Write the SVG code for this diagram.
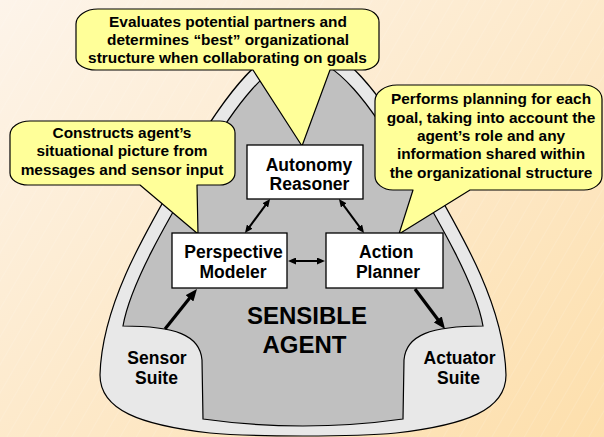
<svg xmlns="http://www.w3.org/2000/svg" width="604" height="437" viewBox="0 0 604 437">
  <style>
    .t { font-family: "Liberation Sans", Arial, sans-serif; font-weight: bold; fill: #000; text-anchor: middle; }
    .box { font-size: 17.5px; }
    .call { font-size: 15.4px; }
    .big { font-size: 24px; }
    .node rect { fill: #fff; stroke: #000; stroke-width: 1.3; }
    .callout path { fill: #ffff99; stroke: #000; stroke-width: 1.2; stroke-linejoin: round; }
    .thin { stroke: #000; stroke-width: 2; fill: none; marker-start: url(#ah); marker-end: url(#ah); }
    .thick { stroke: #000; stroke-width: 3.2; fill: none; marker-end: url(#ahb); }
  </style>
  <defs>
    <linearGradient id="bg" x1="0" y1="0" x2="1" y2="1">
      <stop offset="0" stop-color="#fdf4ea"/>
      <stop offset="1" stop-color="#fddfac"/>
    </linearGradient>
    <pattern id="tex" width="14" height="14" patternUnits="userSpaceOnUse" patternTransform="rotate(30)">
      <line x1="0" y1="0" x2="0" y2="14" stroke="#ffffff" stroke-opacity="0.3" stroke-width="0.8"/>
    </pattern>
    <marker id="ah" viewBox="0 0 8 7" markerWidth="8" markerHeight="7" markerUnits="userSpaceOnUse" refX="1" refY="3.5" orient="auto-start-reverse">
      <path d="M0,0 L8,3.5 L0,7 Z" fill="#000"/>
    </marker>
    <marker id="ahb" viewBox="0 0 12 10" markerWidth="12" markerHeight="10" markerUnits="userSpaceOnUse" refX="1" refY="5" orient="auto">
      <path d="M0,0 L12,5 L0,10 Z" fill="#000"/>
    </marker>
  </defs>

  <g id="background">
    <rect x="0" y="0" width="604" height="437" fill="url(#bg)"/>
    <rect x="0" y="0" width="604" height="437" fill="url(#tex)"/>
  </g>

  <g id="agent-body">
    <path id="outer" d="M 303 42 C 265 42, 225 95, 190 155 C 150 225, 102 300, 100 375 C 100 410, 140 425, 210 433 C 250 437, 356 437, 396 433 C 466 425, 506 410, 506 375 C 504 300, 456 225, 416 155 C 381 95, 341 42, 303 42 Z" fill="#e8e8e8" stroke="#000" stroke-width="1.2"/>
    <path id="inner" d="M 303 58 C 270 58, 235 105, 200 165 C 165 225, 130 285, 123 326 C 175 326, 200 335, 202 360 L 203 419 Q 303 433 403 419 L 404 360 C 406 335, 431 326, 483 326 C 476 285, 441 225, 406 165 C 371 105, 336 58, 303 58 Z" fill="#c0c0c0" stroke="#000" stroke-width="1.2"/>
  </g>

  <g id="sensor-suite">
    <text class="t box" x="157" y="364">Sensor</text>
    <text class="t box" x="156.5" y="384">Suite</text>
  </g>
  <g id="actuator-suite">
    <text class="t box" x="459.5" y="364">Actuator</text>
    <text class="t box" x="458.5" y="384">Suite</text>
  </g>
  <g id="sensible-agent">
    <text class="t big" x="307" y="324">SENSIBLE</text>
    <text class="t big" x="304.5" y="353">AGENT</text>
  </g>

  <g id="callout-autonomy" class="callout">
    <path d="M 98 9 H 362 A 17 13 0 0 1 379 22 V 58 A 17 12 0 0 1 362 70 H 330 L 302 146 L 253 70 H 96 A 20 12 0 0 1 76 58 V 24 A 22 15 0 0 1 98 9 Z"/>
    <text class="t call" x="228" y="26.7">Evaluates potential partners and</text>
    <text class="t call" x="228" y="45">determines “best” organizational</text>
    <text class="t call" x="227.5" y="63.3">structure when collaborating on goals</text>
  </g>
  <g id="callout-perspective" class="callout">
    <path d="M 30 121 H 220 A 15 12 0 0 1 235 133 V 173 A 15 12 0 0 1 220 185 H 197 L 198 234 L 140 185 H 28 A 18 12 0 0 1 10 173 V 135 A 20 14 0 0 1 30 121 Z"/>
    <text class="t call" x="122" y="137.7">Constructs agent’s</text>
    <text class="t call" x="122" y="156.3">situational picture from</text>
    <text class="t call" x="122" y="175">messages and sensor input</text>
  </g>
  <g id="callout-action" class="callout">
    <path d="M 397 85 H 584 A 18 14 0 0 1 602 99 V 176 A 18 14 0 0 1 584 190 H 470 L 399 234 L 413 190 H 393 A 18 14 0 0 1 375 176 V 101 A 22 16 0 0 1 397 85 Z"/>
    <text class="t call" x="491" y="104.3">Performs planning for each</text>
    <text class="t call" x="491" y="122.7">goal, taking into account the</text>
    <text class="t call" x="491" y="141">agent’s role and any</text>
    <text class="t call" x="491" y="159.3">information shared within</text>
    <text class="t call" x="491" y="177.7">the organizational structure</text>
  </g>

  <g id="connectors">
    <line class="thin" x1="265.9" y1="204.6" x2="249.1" y2="227.4"/>
    <line class="thin" x1="343.1" y1="204.6" x2="359.9" y2="227.4"/>
    <line class="thin" x1="295" y1="261" x2="318" y2="261"/>
    <line class="thick" x1="165" y1="329" x2="190.1" y2="297.6"/>
    <line class="thick" x1="415" y1="289" x2="438.4" y2="320.2"/>
  </g>

  <g id="autonomy-reasoner" class="node">
    <rect x="247" y="145" width="116" height="54"/>
    <text class="t box" x="309" y="170.5">Autonomy</text>
    <text class="t box" x="309.5" y="189.5">Reasoner</text>
  </g>
  <g id="perspective-modeler" class="node">
    <rect x="172" y="233" width="115" height="55"/>
    <text class="t box" x="233.5" y="258.3">Perspective</text>
    <text class="t box" x="233" y="278.3">Modeler</text>
  </g>
  <g id="action-planner" class="node">
    <rect x="326" y="233" width="117" height="55"/>
    <text class="t box" x="386.3" y="258.3">Action</text>
    <text class="t box" x="388" y="278.3">Planner</text>
  </g>
</svg>
